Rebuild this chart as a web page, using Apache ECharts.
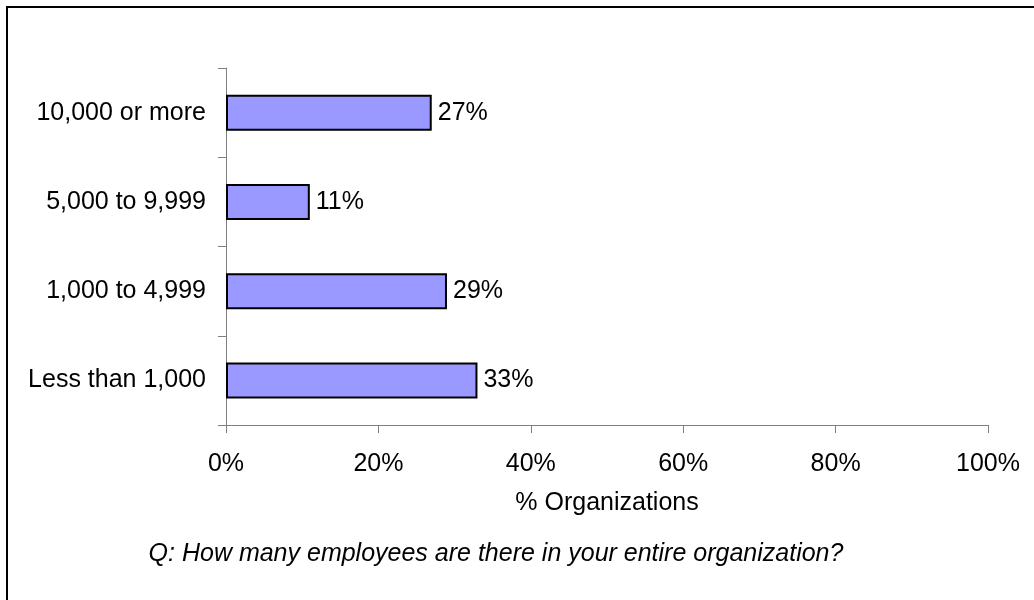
<!DOCTYPE html>
<html>
<head>
<meta charset="utf-8">
<script src="https://cdn.jsdelivr.net/npm/echarts@6/dist/echarts.min.js"></script>
<style>
html,body{margin:0;padding:0;background:#fff;}
#chart{width:1034px;height:600px;}
</style>
</head>
<body>
<div id="chart"></div>
<script>
// Categories listed bottom-to-top (as ECharts category axis draws them)
const categories = ['Less than 1,000', '1,000 to 4,999', '5,000 to 9,999', '10,000 or more'];
const values = [33, 29, 11, 27];
const xTicks = { min: 0, max: 100, interval: 20 };
const xAxisTitle = '% Organizations';
const questionText = 'Q: How many employees are there in your entire organization?';

const FONT = '"Liberation Sans", Arial, sans-serif';
const chart = echarts.init(document.getElementById('chart'), null, { renderer: 'canvas' });
chart.setOption({
  backgroundColor: '#ffffff',
  animation: false,
  grid: { left: 226, right: 46, top: 68, bottom: 175, containLabel: false },
  xAxis: {
    type: 'value',
    min: xTicks.min, max: xTicks.max, interval: xTicks.interval,
    name: xAxisTitle,
    nameLocation: 'middle',
    nameGap: 66,
    nameTextStyle: { fontFamily: FONT, fontSize: 25, color: '#000' },
    axisLine: { show: true, lineStyle: { color: '#808080', width: 1 } },
    axisTick: { show: true, length: 8, lineStyle: { color: '#808080', width: 1 } },
    axisLabel: { formatter: '{value}%', fontFamily: FONT, fontSize: 25, color: '#000', margin: 27 },
    splitLine: { show: false }
  },
  yAxis: {
    type: 'category',
    data: categories,
    axisLine: { show: true, lineStyle: { color: '#808080', width: 1 } },
    axisTick: { show: true, length: 8, lineStyle: { color: '#808080', width: 1 } },
    axisLabel: { fontFamily: FONT, fontSize: 25, color: '#000', margin: 20 },
    splitLine: { show: false }
  },
  series: [{
    type: 'bar',
    data: values,
    barWidth: 36,
    itemStyle: { color: '#9999FF', borderColor: '#000', borderWidth: 2 },
    label: {
      show: true, position: 'right', distance: 6,
      formatter: '{c}%', fontFamily: FONT, fontSize: 25, color: '#000'
    }
  }],
  graphic: [
    {
      type: 'polyline',
      shape: { points: [[7, 620], [7, 7], [1060, 7]] },
      style: { stroke: '#000', lineWidth: 2, fill: null }
    },
    {
      type: 'text',
      x: 496, y: 554,
      style: {
        text: questionText,
        font: 'italic 25px ' + FONT,
        fill: '#000',
        textAlign: 'center',
        textVerticalAlign: 'middle'
      }
    }
  ]
});
</script>
</body>
</html>
